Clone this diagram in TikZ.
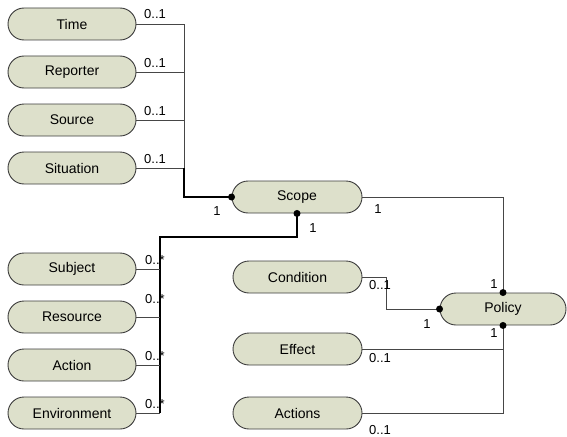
\documentclass[tikz,border=0pt]{standalone}
\usepackage{fontspec}
\setmainfont{Liberation Sans}
\definecolor{nodefill}{RGB}{221,224,203}
\definecolor{nodeborder}{RGB}{60,60,60}
\definecolor{linegray}{RGB}{70,70,70}
\begin{document}
\begin{tikzpicture}[x=1pt,y=-1pt,
  entity/.style={draw=nodeborder,fill=nodefill,rounded corners=16pt,minimum width=128pt,minimum height=32pt,inner sep=0pt,line width=0.9pt,font=\fontsize{14}{16}\selectfont},
  lbl/.style={font=\fontsize{13}{15}\selectfont,inner sep=0pt},
  thinline/.style={draw=linegray,line width=0.9pt},
  thickline/.style={draw=black,line width=1.6pt},
  dot/.style={circle,fill=black,inner sep=0pt,minimum size=7pt}]
\useasboundingbox (0,0) rectangle (567,436);
% left upper group
\node[entity] (time) at (72,24) {Time};
\node[entity] (reporter) at (72,72) {Reporter};
\node[entity] (source) at (72,120) {Source};
\node[entity] (situation) at (72,168) {Situation};
% scope
\node[entity,minimum width=130pt] (scope) at (297,197) {Scope};
% lower left
\node[entity] (subject) at (72,269) {Subject};
\node[entity] (resource) at (72,317) {Resource};
\node[entity] (action) at (72,365) {Action};
\node[entity] (environment) at (72,413) {Environment};
% right group
\node[entity,minimum width=129pt] (condition) at (297.5,277) {Condition};
\node[entity,minimum width=129pt] (effect) at (297.5,349) {Effect};
\node[entity,minimum width=129pt] (actions) at (297.5,413) {Actions};
\node[entity,minimum width=126pt] (policy) at (503,309) {Policy};

\coordinate (busA) at (184,168);
\coordinate (busB) at (160,237);
% upper group connectors
\foreach \n in {time,reporter,source,situation}
  \draw[thinline] (\n.east) -| (busA);
\draw[thickline] (busA) |- (scope.west);
% lower group connectors
\draw[thickline] (scope.south) |- (busB) -- (environment.east -| busB);
\foreach \n in {subject,resource,action,environment}
  \draw[thinline] (\n.east) -- (\n.east -| busB);
% right connectors
\draw[thinline] (scope.east) -| (policy.north);
\draw[thinline] (condition.east) -- ++(24,0) |- (policy.west);
\draw[thinline] (effect.east) -| (policy.south);
\draw[thinline] (actions.east) -| (policy.south);
% dots
\node[dot] (d1) at (scope.west) {};
\node[dot] (d2) at (scope.south) {};
\node[dot] (d3) at (policy.north) {};
\node[dot] (d4) at (policy.south) {};
\node[dot] (d5) at (policy.west) {};
% labels
\node[lbl] (l1) at (155,14) {0..1};
\node[lbl] (l2) at (155,63) {0..1};
\node[lbl] (l3) at (155,111) {0..1};
\node[lbl] (l4) at (155,159) {0..1};
\node[lbl] (l5) at (217,211) {1};
\node[lbl] (l6) at (313,228) {1};
\node[lbl] (l7) at (378,209) {1};
\node[lbl] (l8) at (155,260) {0..*};
\node[lbl] (l9) at (155,299) {0..*};
\node[lbl] (l10) at (155,356) {0..*};
\node[lbl] (l11) at (155,404) {0..*};
\node[lbl] (l12) at (380,285) {0..1};
\node[lbl] (l13) at (427,324) {1};
\node[lbl] (l14) at (494,284) {1};
\node[lbl] (l15) at (494,333) {1};
\node[lbl] (l16) at (380,358) {0..1};
\node[lbl] (l17) at (380,430) {0..1};
\end{tikzpicture}
\end{document}
